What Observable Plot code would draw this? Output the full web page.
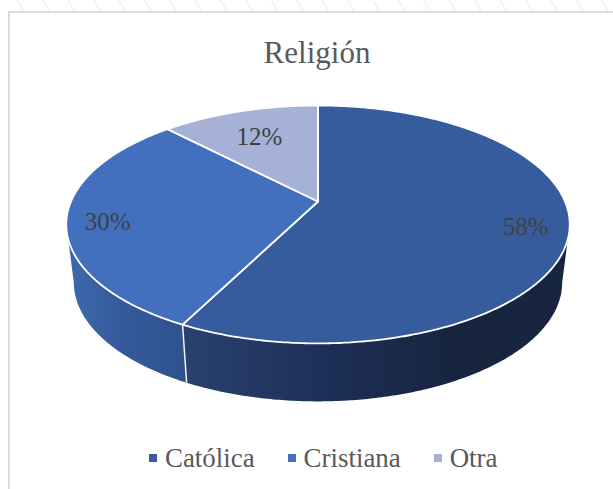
<!DOCTYPE html>
<html lang="es">
<head>
<meta charset="utf-8">
<script src="https://cdn.jsdelivr.net/npm/d3@7"></script>
<script src="https://cdn.jsdelivr.net/npm/@observablehq/plot@0.6"></script>
<style>
  html, body { margin: 0; padding: 0; background: #fff; overflow: hidden; }
  body { width: 613px; height: 489px; position: relative; font-family: "Liberation Serif", serif; }
  #strip { position: absolute; left: 0; top: 0; width: 613px; height: 12px;
    background: repeating-linear-gradient(60deg, #fff 0 20px, #f1f5f9 20px 22px); }
  #frame { position: absolute; left: 8px; top: 11px; right: -4px; bottom: -4px;
    border: 2px solid #dcdcdc; box-sizing: border-box; }
  #chart { position: absolute; left: 0; top: 0; width: 613px; }
  #title { height: 43px; padding-top: 37px; line-height: 31px; font-size: 31px; color: #595959;
    text-align: center; margin-left: 21px; }
  #legend { display: flex; padding: 13px 0 0 149px; font-size: 26.9px; line-height: 30px; color: #595959; }
  #legend .item { display: flex; align-items: center; margin-right: 33px; white-space: nowrap; }
  #legend .key { width: 8px; height: 8px; margin-right: 8px; }
  svg { display: block; }
</style>
</head>
<body>
<div id="strip"></div>
<div id="frame"></div>
<div id="chart"></div>
<script>
// Data
const categories = ["Católica", "Cristiana", "Otra"];
const shares = [57.5, 30.3, 12.2];
const labels = ["58%", "30%", "12%"];
const colors = ["#365C9E", "#4270BE", "#A5B1D6"];

// Where each percentage sits: fraction of the slice's sweep, distance from the centre
const labelSweep = [0.49, 0.5, 0.52];
const labelRadius = [0.83, 0.84, 0.75];

// Tilted-disc projection
const tilt = 0.193;
const depth = 0.5066;
const baseShrink = 0.97;
const project = (u, v) => [u / (1 + tilt * v), v / (1 + tilt * v)];
const rim = (a, r = 1) => project(r * Math.sin(a), r * Math.cos(a));
const lower = ([x, y]) => [x * baseShrink, y - depth];

const slices = d3.pie().sort(null).startAngle(0).endAngle(2 * Math.PI)(shares);
const sweep = (a0, a1) => {
  const n = Math.max(2, Math.ceil((a1 - a0) / 0.01));
  return d3.range(n + 1).map(i => a0 + (a1 - a0) * i / n);
};

// Top face of each slice
const topFaces = slices.flatMap((s, i) => {
  const arc = sweep(s.startAngle, s.endAngle).map(a => rim(a));
  return [[0, 0], ...arc, [0, 0]].map(([x, y]) => ({x, y, category: categories[i]}));
});

// Front wall of a slice, between the two points where the rim turns away from the viewer
const turn = Math.acos(-tilt);
const wall = (i) => {
  const a0 = Math.max(slices[i].startAngle, turn);
  const a1 = Math.min(slices[i].endAngle, 2 * Math.PI - turn);
  const upper = sweep(a0, a1).map(a => rim(a));
  return [...upper, ...upper.slice().reverse().map(lower)].map(([x, y]) => ({x, y}));
};

const seam = rim(slices[0].endAngle);
const seamLine = [{x1: seam[0], y1: seam[1], x2: lower(seam)[0], y2: lower(seam)[1]}];

const labelRows = slices.map((s, i) => {
  const a = s.startAngle + (s.endAngle - s.startAngle) * labelSweep[i];
  const [x, y] = rim(a, labelRadius[i]);
  return {x, y, text: labels[i]};
});

const gradient = (id, stops) => () => {
  const defs = d3.create("svg:defs");
  const g = defs.append("linearGradient").attr("id", id);
  stops.forEach(([o, c]) => g.append("stop").attr("offset", o).attr("stop-color", c));
  return defs.node();
};

const plot = Plot.plot({
  width: 613, height: 350, margin: 0,
  x: {domain: [-317.5 / 247, 295.5 / 247], axis: null},
  y: {domain: [-2, 1.0568], axis: null},
  color: {domain: categories, range: colors},
  style: {background: "transparent"},
  marks: [
    gradient("wallDark", [[0, "#28426F"], [0.4, "#1D2E55"], [0.7, "#17253F"], [1, "#17253F"]]),
    gradient("wallLight", [[0, "#3C6AAE"], [0.5, "#35599A"], [1, "#2F528C"]]),
    Plot.line(wall(0), {x: "x", y: "y", fill: "url(#wallDark)", stroke: "none"}),
    Plot.line(wall(1), {x: "x", y: "y", fill: "url(#wallLight)", stroke: "none"}),
    Plot.link(seamLine, {x1: "x1", y1: "y1", x2: "x2", y2: "y2", stroke: "#f2f2f2", strokeWidth: 1.5}),
    Plot.line(topFaces, {x: "x", y: "y", z: "category", fill: "category", stroke: "#fff", strokeWidth: 1.8, strokeLinejoin: "round"}),
    Plot.text(labelRows, {x: "x", y: "y", text: "text", dy: 6, fontSize: 25, fill: "#404040", fontFamily: "Liberation Serif"})
  ]
});

const chart = document.getElementById("chart");
const title = document.createElement("div");
title.id = "title";
title.textContent = "Religión";
chart.appendChild(title);
chart.appendChild(plot);
const legend = document.createElement("div");
legend.id = "legend";
categories.forEach((c, i) => {
  const item = document.createElement("div");
  item.className = "item";
  const key = document.createElement("span");
  key.className = "key";
  key.style.background = colors[i];
  item.appendChild(key);
  item.appendChild(document.createTextNode(c));
  legend.appendChild(item);
});
chart.appendChild(legend);
</script>
</body>
</html>
